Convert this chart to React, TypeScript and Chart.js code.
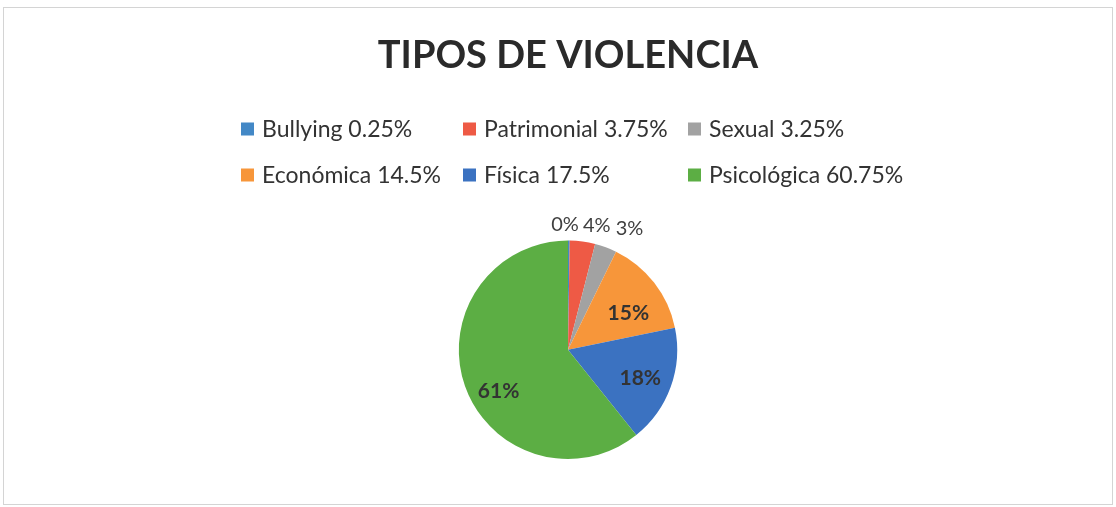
import { useEffect, useRef } from "react";
import { Chart, registerables } from "chart.js";

Chart.register(...registerables);

const titleText = "TIPOS DE VIOLENCIA";
const categories = ["Bullying", "Patrimonial", "Sexual", "Económica", "Física", "Psicológica"];
const values = [0.25, 3.75, 3.25, 14.5, 17.5, 60.75];
const colors = ["#4388C6", "#EE5A45", "#A2A2A2", "#F7963A", "#3B72C1", "#5CAE44"];

const legendLabels = categories.map((c, i) => `${c} ${values[i]}%`);
const sliceLabels = values.map((v) => `${Math.round(v)}%`);

const FONT = "Lato, 'Open Sans', sans-serif";

const gridLegend = {
  id: "gridLegend",
  afterDraw(chart: any, _args: any, opts: any) {
    const ctx = chart.ctx;
    const cols: number[] = opts.cols;
    const rows: number[] = opts.rows;
    ctx.save();
    ctx.font = `${opts.fontSize}px ${FONT}`;
    ctx.textBaseline = "middle";
    ctx.textAlign = "left";
    chart.data.labels.forEach((_l: string, i: number) => {
      const col = i % cols.length;
      const row = Math.floor(i / cols.length);
      const x = cols[col];
      const y = rows[row];
      ctx.fillStyle = chart.data.datasets[0].backgroundColor[i];
      ctx.fillRect(x, y - opts.box / 2, opts.box, opts.box);
      ctx.fillStyle = opts.color;
      ctx.fillText(legendLabels[i], x + opts.box + opts.gap, y + 1);
    });
    ctx.restore();
  },
};

const sliceLabelPlugin = {
  id: "sliceLabels",
  afterDatasetsDraw(chart: any, _args: any, opts: any) {
    const ctx = chart.ctx;
    const meta = chart.getDatasetMeta(0);
    ctx.save();
    ctx.textAlign = "center";
    ctx.textBaseline = "middle";
    meta.data.forEach((arc: any, i: number) => {
      const p = arc.getProps(["x", "y", "startAngle", "endAngle", "outerRadius"], true);
      const place = opts.place[i];
      const mid = (p.startAngle + p.endAngle) / 2 + (place.deg * Math.PI) / 180;
      const r = p.outerRadius * place.f;
      const x = p.x + Math.cos(mid) * r + place.dx;
      const y = p.y + Math.sin(mid) * r + place.dy;
      const outside = place.f > 1;
      ctx.font = `${outside ? "normal" : "bold"} ${outside ? opts.outsideSize : opts.insideSize}px ${FONT}`;
      ctx.fillStyle = outside ? opts.outsideColor : opts.insideColor;
      ctx.fillText(sliceLabels[i], x, y);
    });
    ctx.restore();
  },
};

export default function App() {
  const ref = useRef<HTMLCanvasElement | null>(null);

  useEffect(() => {
    if (!ref.current) return;
    const chart = new Chart(ref.current, {
      type: "pie",
      data: {
        labels: categories,
        datasets: [
          {
            data: values,
            backgroundColor: colors,
            borderWidth: 0,
          },
        ],
      },
      options: {
        animation: false,
        responsive: true,
        maintainAspectRatio: false,
        layout: { padding: { top: 0, bottom: 48, left: 20, right: 0 } },
        plugins: {
          legend: { display: false },
          tooltip: { enabled: false },
          title: {
            display: true,
            text: titleText,
            color: "#2a2a2a",
            font: { family: FONT, size: 38, weight: "bold", lineHeight: 1.2 },
            padding: { top: 33, bottom: 162 },
          },
          gridLegend: {
            cols: [241, 463, 688],
            rows: [129, 175],
            box: 13,
            gap: 8,
            fontSize: 23,
            color: "#333333",
          },
          sliceLabels: {
            insideSize: 21,
            outsideSize: 20,
            outsideColor: "#404040",
            insideColor: "#333333",
            place: [
              { f: 1.15, deg: 0, dx: -4, dy: 0 },
              { f: 1.15, deg: 0, dx: 12, dy: 0 },
              { f: 1.15, deg: 0, dx: 18, dy: -3 },
              { f: 0.65, deg: 6, dx: 0, dy: 1 },
              { f: 0.71, deg: 1.5, dx: 0, dy: 0 },
              { f: 0.74, deg: -11.4, dx: 0, dy: 0 },
            ],
          },
        } as any,
      },
      plugins: [gridLegend, sliceLabelPlugin],
    });
    return () => chart.destroy();
  }, []);

  return (
    <div
      style={{
        position: "fixed",
        left: 0,
        top: 0,
        width: 1116,
        height: 507,
        background: "#ffffff",
      }}
    >
      <div
        style={{
          position: "absolute",
          left: 3,
          top: 7,
          width: 1108,
          height: 496,
          border: "1px solid #d4d4d4",
        }}
      />
      <div style={{ position: "absolute", left: 0, top: 0, width: 1116, height: 507 }}>
        <canvas ref={ref} />
      </div>
    </div>
  );
}
